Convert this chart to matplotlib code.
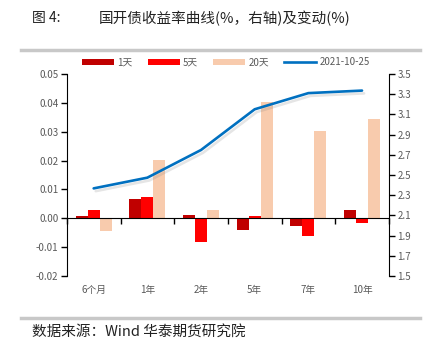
import matplotlib.pyplot as plt
import matplotlib.patheffects as pe
from matplotlib.lines import Line2D
import numpy as np

plt.rcParams['font.family'] = ['Noto Sans CJK SC', 'DejaVu Sans']

categories = ['6个月', '1年', '2年', '5年', '7年', '10年']
chg_1d = [0.0008, 0.0066, 0.0012, -0.0040, -0.0027, 0.0028]
chg_5d = [0.0028, 0.0074, -0.0084, 0.0008, -0.0060, -0.0015]
chg_20d = [-0.0043, 0.0202, 0.0028, 0.0403, 0.0303, 0.0344]
yield_curve = [2.367, 2.473, 2.747, 3.15, 3.31, 3.335]
curve_label = '2021-10-25'

c1, c5, c20, cline = '#C00000', '#FF0000', '#F8CBAD', '#0070C0'
tick_gray = '#595959'

fig = plt.figure(figsize=(4.34, 3.52), dpi=100)
ax = fig.add_axes([0.154, 0.216, 0.742, 0.574])
x = np.arange(len(categories))
w = 0.225
b1 = ax.bar(x - w, chg_1d, w, color=c1, label='1天', zorder=2)
b5 = ax.bar(x, chg_5d, w, color=c5, label='5天', zorder=2)
b20 = ax.bar(x + w, chg_20d, w, color=c20, label='20天', zorder=2)

ax.set_xlim(-0.5, len(categories) - 0.5)
ax.set_ylim(-0.02, 0.05)
ax.set_yticks(np.arange(-0.02, 0.0501, 0.01))
ax.set_yticklabels([f'{v:.2f}' for v in np.arange(-0.02, 0.0501, 0.01)])
ax.spines['top'].set_visible(False)
ax.spines['right'].set_visible(False)
ax.spines['bottom'].set_position(('data', 0))
ax.set_xticks(np.arange(-0.5, len(categories) - 0.4, 1))
ax.set_xticklabels([])
ax.tick_params(axis='x', direction='out', length=4, width=1)
ax.tick_params(axis='y', direction='out', length=4, width=1, labelsize=7, labelcolor=tick_gray, pad=2)
for i, c in enumerate(categories):
    ax.text(i, -0.0248, c, ha='center', va='center', fontsize=7, color=tick_gray)

ax2 = ax.twinx()
ax2.set_ylim(1.5, 3.5)
ax2.set_yticks(np.arange(1.5, 3.51, 0.2))
ax2.set_yticklabels([f'{v:.1f}' for v in np.arange(1.5, 3.51, 0.2)])
for s in ['top', 'left', 'bottom']:
    ax2.spines[s].set_visible(False)
ax2.tick_params(axis='y', direction='out', length=4, width=1, labelsize=7, labelcolor=tick_gray, pad=2)
ln, = ax2.plot(x, yield_curve, color=cline, lw=1.9, label=curve_label, solid_capstyle='round',
               path_effects=[pe.SimpleLineShadow(offset=(1.5, -2), shadow_color='gray', alpha=0.2),
                             pe.Normal()])

handles = [b1, b5, b20, Line2D([], [], color=cline, lw=1.9)]
fig.legend(handles, ['1天', '5天', '20天', curve_label], loc='center', bbox_to_anchor=(0.52, 0.823),
           ncol=4, frameon=False, fontsize=7, handlelength=3.3, handleheight=0.6, columnspacing=1.6,
           handletextpad=0.3, labelcolor=tick_gray)

fig.text(0.074, 0.948, '图 4:', fontsize=10, va='center', color='#222222')
fig.text(0.228, 0.948, '国开债收益率曲线(%，右轴)及变动(%)', fontsize=10.5, va='center', color='#222222')
fig.add_artist(Line2D([0.048, 0.968], [0.859, 0.859], color='#c8c8c8', lw=2.5))
fig.add_artist(Line2D([0.048, 0.968], [0.097, 0.097], color='#c8c8c8', lw=2.5))
fig.text(0.074, 0.058, '数据来源：Wind 华泰期货研究院', fontsize=10.5, va='center', color='#222222')

fig.savefig('out.png', dpi=100)
